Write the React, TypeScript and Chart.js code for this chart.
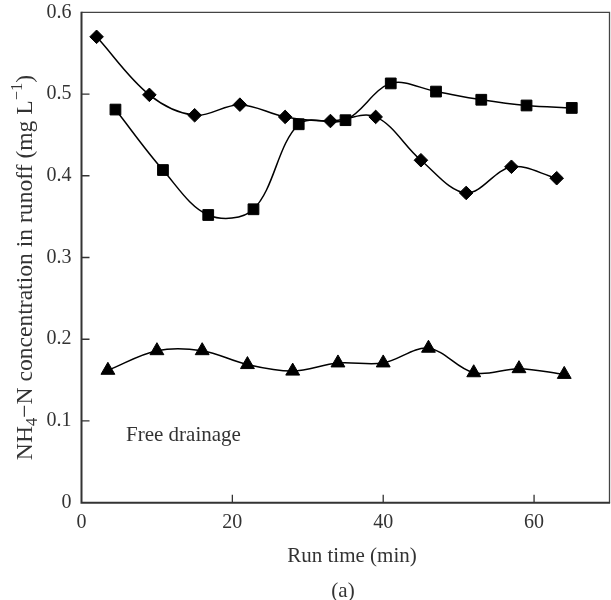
import React, { useEffect, useRef } from 'react';
import { Chart, registerables } from 'chart.js';

Chart.register(...registerables);

// Run time (min) and NH4-N concentration (mg/L)
const diamondX = [2, 9, 15, 21, 27, 33, 39, 45, 51, 57, 63];
const diamondY = [0.570, 0.499, 0.474, 0.487, 0.472, 0.467, 0.472, 0.419, 0.379, 0.411, 0.397];
const squareX = [4.5, 10.8, 16.8, 22.8, 28.8, 35, 41, 47, 53, 59, 65];
const squareY = [0.481, 0.407, 0.352, 0.359, 0.463, 0.468, 0.513, 0.503, 0.493, 0.486, 0.483];
const triangleX = [3.5, 10, 16, 22, 28, 34, 40, 46, 52, 58, 64];
const triangleY = [0.162, 0.186, 0.186, 0.169, 0.161, 0.171, 0.171, 0.189, 0.159, 0.164, 0.157];

const xTicks = [0, 20, 40, 60];
const yTicks = [0, 0.1, 0.2, 0.3, 0.4, 0.5, 0.6];
const xTitle = 'Run time (min)';
const panelLabel = '(a)';
const annotation = 'Free drainage';

const FONT = '"Liberation Serif", "Times New Roman", serif';
const TEXT = '#333';

const toPoints = (xs: number[], ys: number[]) => xs.map((x, i) => ({ x, y: ys[i] }));

const framePlugin = {
  id: 'framePlugin',
  afterDraw(chart: any) {
    const { ctx, chartArea: a, scales } = chart;
    const xs = scales.x;
    const ys = scales.y;
    ctx.save();
    // frame
    ctx.strokeStyle = '#444';
    ctx.lineWidth = 1.3;
    ctx.beginPath();
    ctx.moveTo(a.left, a.top);
    ctx.lineTo(a.right, a.top);
    ctx.lineTo(a.right, a.bottom);
    ctx.stroke();
    ctx.strokeStyle = '#333';
    ctx.lineWidth = 2;
    ctx.beginPath();
    ctx.moveTo(a.left, a.top - 0.6);
    ctx.lineTo(a.left, a.bottom);
    ctx.lineTo(a.right + 0.6, a.bottom);
    ctx.stroke();
    // inward ticks
    ctx.lineWidth = 1.3;
    ctx.beginPath();
    xTicks.forEach((v) => {
      if (v === xs.min) return;
      const px = xs.getPixelForValue(v);
      ctx.moveTo(px, a.bottom);
      ctx.lineTo(px, a.bottom - 8);
    });
    yTicks.forEach((v) => {
      if (v === ys.min || v === ys.max) return;
      const py = ys.getPixelForValue(v);
      ctx.moveTo(a.left, py);
      ctx.lineTo(a.left + 8, py);
    });
    ctx.stroke();

    ctx.fillStyle = TEXT;
    // x title
    ctx.font = `21px ${FONT}`;
    ctx.textAlign = 'center';
    ctx.textBaseline = 'alphabetic';
    ctx.fillText(xTitle, (a.left + a.right) / 2 + 6.5, 562);
    // panel label
    ctx.fillText(panelLabel, (a.left + a.right) / 2 - 2.5, 597);
    // annotation
    ctx.textAlign = 'left';
    ctx.fillText(annotation, 126, 441);

    // y title with subscript and superscript
    const parts = [
      { t: 'NH', s: 23.6, dy: 0 },
      { t: '4', s: 16.5, dy: 5 },
      { t: '\u2212N concentration in runoff (mg L', s: 23.6, dy: 0 },
      { t: '\u22121', s: 16.5, dy: -9.5 },
      { t: ')', s: 23.6, dy: 0 },
    ];
    let total = 0;
    parts.forEach((p) => {
      ctx.font = `${p.s}px ${FONT}`;
      total += ctx.measureText(p.t).width;
    });
    ctx.translate(31.5, (a.top + a.bottom) / 2 + 10);
    ctx.rotate(-Math.PI / 2);
    let cx = -total / 2;
    parts.forEach((p) => {
      ctx.font = `${p.s}px ${FONT}`;
      ctx.fillText(p.t, cx, p.dy);
      cx += ctx.measureText(p.t).width;
    });
    ctx.restore();
  },
};

export default function App() {
  const ref = useRef<HTMLCanvasElement>(null);
  useEffect(() => {
    if (!ref.current) return;
    const common = {
      borderColor: '#000',
      borderWidth: 1.5,
      backgroundColor: '#000',
      pointBackgroundColor: '#000',
      pointBorderColor: '#000',
      pointBorderWidth: 1,
      tension: 0.35,
      fill: false,
      clip: false,
    };
    const chart = new Chart(ref.current, {
      type: 'line',
      data: {
        datasets: [
          { ...common, label: 'Diamond', data: toPoints(diamondX, diamondY), pointStyle: 'rectRot', pointRadius: 6.8 },
          { ...common, label: 'Square', data: toPoints(squareX, squareY), pointStyle: 'rect', pointRadius: 7.6 },
          { ...common, label: 'Triangle', data: toPoints(triangleX, triangleY), pointStyle: 'triangle', pointRadius: 8 },
        ],
      },
      options: {
        responsive: false,
        animation: false,
        devicePixelRatio: 1,
        layout: { autoPadding: false, padding: { top: 12.3, right: 1.5, left: 0, bottom: 0 } },
        plugins: { legend: { display: false }, tooltip: { enabled: false } },
        scales: {
          x: {
            type: 'linear',
            min: 0,
            max: 70,
            grid: { display: false, drawTicks: false },
            border: { display: false },
            afterBuildTicks: (s: any) => {
              s.ticks = xTicks.map((v) => ({ value: v }));
            },
            afterFit: (s: any) => {
              s.height = 97.3;
              s.paddingLeft = 0;
              s.paddingRight = 0;
            },
            ticks: {
              padding: 8,
              maxRotation: 0,
              color: TEXT,
              font: { family: FONT, size: 20 },
              callback: (v: any) => String(v),
            },
          },
          y: {
            type: 'linear',
            min: 0,
            max: 0.6,
            grid: { display: false, drawTicks: false },
            border: { display: false },
            afterBuildTicks: (s: any) => {
              s.ticks = yTicks.map((v) => ({ value: v }));
            },
            afterFit: (s: any) => {
              s.width = 81.5;
              s.paddingTop = 0;
              s.paddingBottom = 0;
            },
            ticks: {
              padding: 10,
              color: TEXT,
              font: { family: FONT, size: 20 },
              callback: (v: any) => (Number(v) === 0 ? '0' : Number(v).toFixed(1)),
            },
          },
        },
      },
      plugins: [framePlugin],
    });
    return () => chart.destroy();
  }, []);
  return (
    <div style={{ position: 'absolute', left: 0, top: 0, width: 611, height: 600, background: '#fff' }}>
      <canvas ref={ref} width={611} height={600} style={{ display: 'block' }} />
    </div>
  );
}
